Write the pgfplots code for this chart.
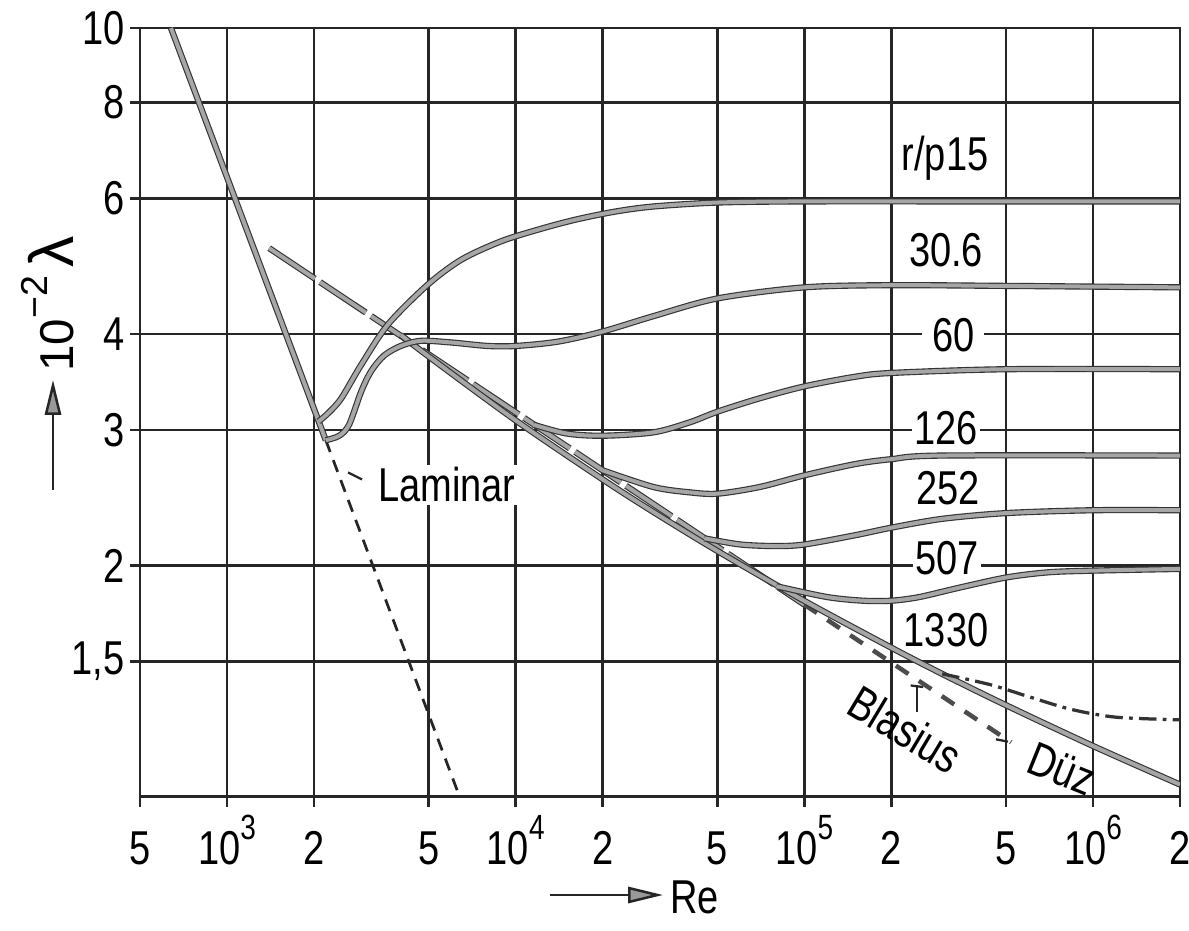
\documentclass[border=0pt]{standalone}
\usepackage{pgfplots}
\pgfplotsset{compat=1.18}
\usetikzlibrary{arrows.meta}
\usepackage{fontspec}
\setmainfont[FakeStretch=0.8]{Liberation Sans}
\newfontfamily\lblfont{Liberation Sans}
\newcommand{\pt}[1]{10\raisebox{0.52em}{\fontsize{14}{14}\selectfont #1}}

\tikzset{curve/.style={draw=black!80, line width=0.45pt, double=black!35, double distance=1.6pt}}

\begin{document}
\begin{tikzpicture}[font=\fontsize{19}{22}\selectfont]
\begin{axis}[
  scale only axis, width=416pt, height=307.6pt,
  xmode=log, ymode=log, log basis x=10, log basis y=10,
  xmin=500, xmax=2000000, ymin=1, ymax=10,
  xtick={500,1000,2000,5000,10000,20000,50000,100000,200000,500000,1000000,2000000},
  xticklabels={5,\pt{3},2,5,\pt{4},2,5,\pt{5},2,5,\pt{6},2},
  ytick={1.5,2,3,4,6,8,10},
  yticklabels={{1,5},2,3,4,6,8,10},
  grid=major,
  major grid style={black!85, line width=1pt},
  axis line style={black!85, line width=1pt},
  tick pos=left, tick align=outside, major tick length=4pt,
  every tick/.style={black!85, line width=1pt},
  xminorticks=false, yminorticks=false,
  /pgf/number format/assume math mode=true,
  xticklabel style={font=\fontsize{19}{22}\selectfont, inner sep=2pt, anchor=base, yshift=-23pt},
  yticklabel style={font=\fontsize{19}{22}\selectfont, inner sep=2pt},
  no markers,
]
\coordinate (SW) at (rel axis cs:0,0);
\coordinate (NE) at (rel axis cs:1,1);

% labels with white background (cut grid lines)
\node[fill=white, inner sep=1pt] at (rel axis cs:0.774,0.831) {r/p15};
\node[fill=white, inner sep=1pt] at (rel axis cs:0.775,0.711) {30.6};
\node[fill=white, inner sep=1pt, inner xsep=4pt] at (rel axis cs:0.782,0.600) {60};
\node[fill=white, inner sep=1pt] at (rel axis cs:0.775,0.480) {126};
\node[fill=white, inner sep=1pt] at (rel axis cs:0.777,0.402) {252};
\node[fill=white, inner sep=1pt] at (rel axis cs:0.776,0.310) {507};
\node[fill=white, inner sep=1pt] at (rel axis cs:0.775,0.217) {1330};
\node[fill=white, inner sep=1pt] at (rel axis cs:0.295,0.406) {Laminar};
\node[rotate=-31, inner sep=0pt] at (rel axis cs:0.736,0.088) {Blasius};
\node[rotate=-22, inner sep=0pt] at (rel axis cs:0.886,0.036) {Düz};

% leader marks
\draw[black!85, line width=0.9pt] (rel axis cs:0.747,0.144) -- (rel axis cs:0.747,0.110);
\draw[black!85, line width=0.9pt] (rel axis cs:0.741,0.145) -- (rel axis cs:0.753,0.143);
\draw[black!85, line width=0.9pt] (rel axis cs:0.823,0.075) -- (rel axis cs:0.8346,0.072);
\draw[black!85, line width=0.9pt] (rel axis cs:0.200,0.422) -- (rel axis cs:0.2135,0.413);

% laminar
\addplot[curve] coordinates {(640,10.0) (2200,2.91)};
\addplot[black!85, line width=1.1pt, dash pattern=on 5pt off 3.5pt] coordinates {(2200,2.91) (6400,1.0)};

% Blasius
\addplot[curve, dash pattern=on 22pt off 2.5pt] coordinates {(1400,5.173) (100000,1.779)};
\addplot[black!70, line width=1.8pt, dash pattern=on 6pt off 5pt] coordinates {(100000,1.779) (520000,1.178)};

% smooth pipe (Prandtl)
\addplot[curve, smooth, tension=0.5] coordinates {(4000,3.99) (5000,3.74) (10000,3.089) (20000,2.589) (30000,2.348) (50000,2.089) (100000,1.799) (200000,1.564) (300000,1.446) (500000,1.316) (1000000,1.165) (2000000,1.038)};

% 1330 extension
\addplot[black!80, line width=1.3pt, dash pattern=on 7pt off 2.5pt on 1.5pt off 2.5pt, smooth, tension=0.5] coordinates {(300000,1.446) (440000,1.40) (600000,1.35) (840000,1.30) (1200000,1.27) (2000000,1.26)};

% r/ks = 15
\addplot[curve, smooth, tension=0.5] coordinates {(2080,3.08) (2250,3.16) (2490,3.30) (2920,3.65) (3620,4.12) (4970,4.64) (6500,5.0) (8900,5.28) (12000,5.47) (16000,5.63) (22000,5.77) (30000,5.86) (50000,5.93) (100000,5.95) (500000,5.95) (2000000,5.95)};
% 30.6
\addplot[curve, smooth, tension=0.5] coordinates {(2200,2.91) (2450,2.95) (2650,3.05) (2920,3.37) (3160,3.58) (3500,3.75) (4000,3.86) (4700,3.92) (6000,3.90) (8000,3.86) (10000,3.86) (14000,3.91) (20000,4.03) (30000,4.22) (50000,4.45) (100000,4.60) (200000,4.63) (500000,4.62) (2000000,4.60)};
% 60
\addplot[curve, smooth, tension=0.5] coordinates {(11500,3.05) (15000,2.97) (20000,2.95) (30000,2.98) (40000,3.07) (50000,3.17) (70000,3.30) (100000,3.42) (150000,3.52) (200000,3.56) (500000,3.60) (2000000,3.60)};
% 126
\addplot[curve, smooth, tension=0.5] coordinates {(20000,2.66) (30000,2.53) (40000,2.49) (50000,2.48) (70000,2.53) (100000,2.62) (150000,2.71) (200000,2.75) (300000,2.78) (2000000,2.78)};
% 252
\addplot[curve, smooth, tension=0.5] coordinates {(45000,2.17) (60000,2.13) (80000,2.12) (100000,2.13) (150000,2.19) (200000,2.24) (300000,2.30) (500000,2.34) (1000000,2.36) (2000000,2.36)};
% 507
\addplot[curve, smooth, tension=0.5] coordinates {(80000,1.88) (120000,1.82) (160000,1.80) (200000,1.80) (250000,1.82) (340000,1.87) (500000,1.93) (700000,1.96) (1000000,1.97) (2000000,1.98)};

\draw[black!85, line width=1.8pt] (rel axis cs:0,0) -- (rel axis cs:1,0);
\end{axis}

% axis descriptions
\draw[black!85, line width=1pt, -{Triangle[length=14pt,width=6.5pt,fill=black!40]}] ([shift={(-34.8pt,122.8pt)}]SW) -- ([shift={(-34.8pt,166.8pt)}]SW);
\node[rotate=90, anchor=west, inner sep=0pt] at ([shift={(-37pt,170pt)}]SW) {\lblfont 10\raisebox{0.55em}{\fontsize{15}{15}\selectfont −2}\,{\fontsize{25}{25}\selectfont λ}};
\draw[black!85, line width=1pt, -{Triangle[length=14pt,width=6.5pt,fill=black!40]}] ([shift={(164pt,-39.2pt)}]SW) -- ([shift={(209.2pt,-39.2pt)}]SW);
\node[anchor=west, inner sep=0pt] at ([shift={(212pt,-40pt)}]SW) {Re};

\pgfresetboundingbox
\path[use as bounding box] ([shift={(-56pt,-53.2pt)}]SW) rectangle ([shift={(3.6pt,11.2pt)}]NE);
\end{tikzpicture}
\end{document}
